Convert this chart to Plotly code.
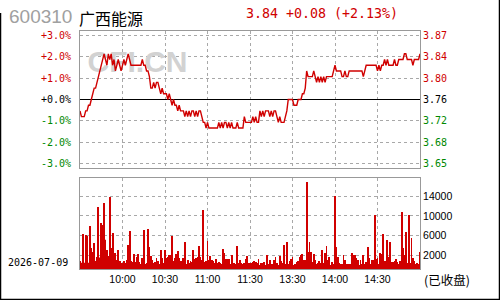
import plotly.graph_objects as go

PREV_CLOSE = 3.76
STOCK_CODE = "600310"
STOCK_NAME = "广西能源"
LAST_PRICE = 3.84
TRADE_DATE = "2026-07-09"
STATUS = "(已收盘)"
WATERMARK = "CFI.CN"

PRICE_MORNING = [
    3.74, 3.73, 3.73, 3.73, 3.74, 3.74, 3.75, 3.75, 3.76, 3.77,
    3.78, 3.78, 3.79, 3.80, 3.81, 3.82, 3.83, 3.84, 3.83, 3.82,
    3.84, 3.83, 3.84, 3.82, 3.83, 3.81, 3.82, 3.83, 3.82, 3.81,
    3.82, 3.83, 3.82, 3.83, 3.84, 3.83, 3.82, 3.82, 3.82, 3.82,
    3.82, 3.82, 3.82, 3.82, 3.83, 3.82, 3.82, 3.81, 3.81, 3.80,
    3.78, 3.78, 3.79, 3.78, 3.79, 3.79, 3.78, 3.77, 3.78, 3.77,
    3.77, 3.77, 3.76, 3.77, 3.76, 3.75, 3.76, 3.75, 3.75, 3.74,
    3.75, 3.74, 3.74, 3.74, 3.73, 3.74, 3.73, 3.74, 3.73, 3.74,
    3.74, 3.73, 3.74, 3.73, 3.74, 3.74, 3.73, 3.72, 3.72, 3.71,
    3.72, 3.71, 3.71, 3.71, 3.71, 3.71, 3.71, 3.71, 3.72, 3.71,
    3.72, 3.71, 3.72, 3.72, 3.71, 3.72, 3.71, 3.72, 3.71, 3.71,
    3.71, 3.72, 3.71, 3.71, 3.71, 3.71, 3.73, 3.72, 3.72, 3.72,
    3.72,
]
PRICE_AFTERNOON = [
    3.72, 3.73, 3.72, 3.73, 3.72, 3.72, 3.74, 3.73, 3.74, 3.73,
    3.74, 3.74, 3.74, 3.73, 3.74, 3.73, 3.74, 3.74, 3.73, 3.72,
    3.73, 3.72, 3.72, 3.72, 3.73, 3.74, 3.76, 3.76, 3.76, 3.76,
    3.75, 3.75, 3.75, 3.76, 3.76, 3.76, 3.77, 3.77, 3.78, 3.81,
    3.80, 3.80, 3.80, 3.80, 3.81, 3.80, 3.79, 3.80, 3.79, 3.80,
    3.79, 3.80, 3.79, 3.80, 3.80, 3.80, 3.80, 3.80, 3.81, 3.82,
    3.81, 3.81, 3.81, 3.81, 3.80, 3.80, 3.81, 3.80, 3.80, 3.81,
    3.81, 3.81, 3.81, 3.81, 3.81, 3.81, 3.81, 3.81, 3.81, 3.80,
    3.81, 3.82, 3.82, 3.82, 3.82, 3.82, 3.82, 3.82, 3.82, 3.81,
    3.82, 3.81, 3.82, 3.82, 3.83, 3.82, 3.83, 3.82, 3.82, 3.82,
    3.82, 3.83, 3.82, 3.82, 3.83, 3.83, 3.83, 3.83, 3.84, 3.84,
    3.83, 3.83, 3.83, 3.83, 3.82, 3.83, 3.83, 3.83, 3.83, 3.84,
]

VOL_MORNING = [
    847, 500, 6339, 500, 6135, 5932, 500, 7966, 3491, 2677, 4508, 847, 1660,
    11830, 1530, 8576, 8169, 12644, 5186, 3084, 1864, 13864, 3491,
    6542, 1864, 2474, 1050, 3084, 847, 440, 440, 847,
    440, 1050, 4101, 6949, 847, 643, 2271, 643, 1660,
    2271, 643, 237, 1457, 7152, 237, 440, 7356, 3694, 1864,
    1050, 440, 643, 1457, 847, 237, 3084, 1457, 440, 3084,
    1457, 1660, 2067, 2067, 5932, 847, 1457, 2271, 2881, 1457,
    847, 847, 1457, 4711, 237, 1050, 440, 847, 643,
    3084, 1253, 1457, 1660, 3898, 1660, 1050, 11220, 643, 847,
    4915, 1050, 1864, 1050, 847, 440, 1253, 440, 643, 440,
    237, 3288, 2474, 1253, 1253, 1253, 237, 2067, 237, 440,
    237, 3898, 440, 1050, 440, 237, 440, 1253, 1864, 440, 237,
]
VOL_AFTERNOON = [
    440, 643, 847, 643, 440, 1253, 33, 440, 440, 643,
    33, 2067, 237, 1050, 237, 237, 1050, 1660, 440, 33,
    1864, 847, 440, 4101, 237, 4711, 237, 847, 1253, 1660,
    33, 237, 643, 847, 1660, 2067, 2271, 1050, 1050, 16916,
    2677, 4711, 2677, 643, 2271, 1050, 237, 440, 847, 440,
    3084, 440, 2474, 3898, 1050, 1660, 33, 643, 237, 14067,
    3694, 1660, 440, 237, 237, 2067, 1050, 237, 237, 237,
    237, 2474, 2067, 2067, 1457, 1050, 33, 1050, 237, 2067,
    237, 643, 3694, 1457, 237, 1050, 1050, 10203, 1253,
    1457, 237, 2474, 2271, 6339, 847, 643, 5118, 1660,
    4711, 643, 643, 847, 1253, 643, 237, 847, 10813, 3491,
    2067, 6745, 440, 10203, 440, 5525, 1457, 847, 237, 440, 237, 2677,
]

TIME_TICK_POS = [30, 60, 90, 120, 150, 180, 210]
TIME_TICK_LABELS = ["10:00", "10:30", "11:00", "11:30", "13:30", "14:00", "14:30"]
PCT_TICKS = [3, 2, 1, 0, -1, -2, -3]
VOL_TICKS = [2000, 6000, 10000, 14000]
VOL_FLOOR = -848
VOL_TOP = 17660
PCT_LIMIT = 3.19

RED = "#d00000"
GREEN = "#008800"
GRID = "#a8a8a8"
FRAME = "#999999"
MONO = "DejaVu Sans Mono"
SANS = "Liberation Sans"

prices = PRICE_MORNING + PRICE_AFTERNOON
volumes = VOL_MORNING + VOL_AFTERNOON
pct = [(p / PREV_CLOSE - 1) * 100 for p in prices]
minutes = list(range(len(prices)))
vol_minutes = list(range(len(volumes)))

fig = go.Figure()

# watermark beneath the line
fig.add_trace(go.Scatter(
    x=[40.6], y=[1.63], mode="text", text=[WATERMARK],
    textfont=dict(family="Liberation Sans", size=30, color="#d2d2d2", weight="bold"),
    xaxis="x", yaxis="y", hoverinfo="skip", showlegend=False,
))
fig.add_trace(go.Scatter(
    x=minutes, y=pct, mode="lines", line=dict(color=RED, width=1.4),
    xaxis="x", yaxis="y", showlegend=False,
))
fig.add_trace(go.Bar(
    x=vol_minutes, y=[v - VOL_FLOOR for v in volumes], base=VOL_FLOOR,
    marker=dict(color=RED, line=dict(width=0)),
    xaxis="x2", yaxis="y2", showlegend=False,
))

def px_x(px):
    return px / 500

def px_y(px):
    return 1 - px / 300

axis_common = dict(
    showline=True, mirror=True, linecolor=FRAME, linewidth=1,
    showgrid=True, gridcolor=GRID, griddash="dot", gridwidth=1,
    zeroline=False, ticks="", fixedrange=True,
)

fig.update_layout(
    width=500, height=300,
    margin=dict(l=0, r=0, t=0, b=0),
    paper_bgcolor="white", plot_bgcolor="white",
    bargap=0.3,
    xaxis=dict(domain=[px_x(80), px_x(420)], range=[0, 240], anchor="y",
               tickvals=TIME_TICK_POS, showticklabels=False, **axis_common),
    yaxis=dict(domain=[px_y(168), px_y(31)], range=[-PCT_LIMIT, PCT_LIMIT], anchor="x",
               tickvals=[t for t in PCT_TICKS if t != 0], showticklabels=False,
               **{k: v for k, v in axis_common.items() if k != "zeroline"},
               zeroline=True, zerolinecolor="black", zerolinewidth=1),
    xaxis2=dict(domain=[px_x(80), px_x(420)], range=[0, 240], anchor="y2",
                tickvals=TIME_TICK_POS, ticktext=TIME_TICK_LABELS,
                tickfont=dict(family=SANS, size=10.5, color="black"),
                **axis_common),
    yaxis2=dict(domain=[px_y(269.3), px_y(178.3)], range=[VOL_FLOOR, VOL_TOP], anchor="x2",
                side="right", tickvals=VOL_TICKS, ticktext=[str(v) for v in VOL_TICKS],
                tickfont=dict(family=SANS, size=10.5, color="black"),
                **axis_common),
)

annotations = []
for t in PCT_TICKS:
    color = RED if t > 0 else (GREEN if t < 0 else "black")
    sign = "+" if t >= 0 else "-"
    annotations.append(dict(
        text=f"{sign}{abs(t):.1f}%", x=px_x(73), xref="paper", xanchor="right",
        y=t, yref="y", yanchor="middle", showarrow=False,
        font=dict(family=MONO, size=10, color=color),
    ))
    annotations.append(dict(
        text=f"{PREV_CLOSE * (1 + t / 100):.2f}", x=px_x(421), xref="paper", xanchor="left",
        y=t, yref="y", yanchor="middle", showarrow=False,
        font=dict(family=MONO, size=10, color=color),
    ))

change = LAST_PRICE - PREV_CLOSE
change_pct = change / PREV_CLOSE * 100
annotations += [
    dict(text=STOCK_CODE, x=px_x(7), y=px_y(17), xref="paper", yref="paper",
         xanchor="left", yanchor="middle", showarrow=False,
         font=dict(family="Liberation Sans", size=19, color="#a0a0a0")),
    dict(text=STOCK_NAME, x=px_x(77), y=px_y(17.5), xref="paper", yref="paper",
         xanchor="left", yanchor="middle", showarrow=False,
         font=dict(family="Noto Sans CJK SC", size=16, color="black")),
    dict(text=f"{LAST_PRICE:.2f} {change:+.2f} ({change_pct:+.2f}%)",
         x=px_x(244), y=px_y(14), xref="paper", yref="paper",
         xanchor="left", yanchor="middle", showarrow=False,
         font=dict(family=MONO, size=13.3, color=RED)),
    dict(text=TRADE_DATE, x=px_x(6), y=px_y(262.5), xref="paper", yref="paper",
         xanchor="left", yanchor="middle", showarrow=False,
         font=dict(family=MONO, size=10, color="black")),
    dict(text=STATUS, x=px_x(422), y=px_y(279.5), xref="paper", yref="paper",
         xanchor="left", yanchor="middle", showarrow=False,
         font=dict(family="Noto Sans CJK SC", size=12.5, color="black")),
]
fig.update_layout(annotations=annotations)

fig.update_layout(shapes=[
    dict(type="line", xref="paper", yref="paper", x0=0.001, x1=0.001, y0=0, y1=px_y(13),
         line=dict(color="black", width=1.5)),
    dict(type="line", xref="paper", yref="paper", x0=0, x1=1, y0=0.002, y1=0.002,
         line=dict(color="black", width=1.5)),
    dict(type="line", xref="paper", yref="paper", x0=0.999, x1=0.999, y0=0, y1=1,
         line=dict(color="black", width=1.5)),
])

fig.write_html("out.html")
